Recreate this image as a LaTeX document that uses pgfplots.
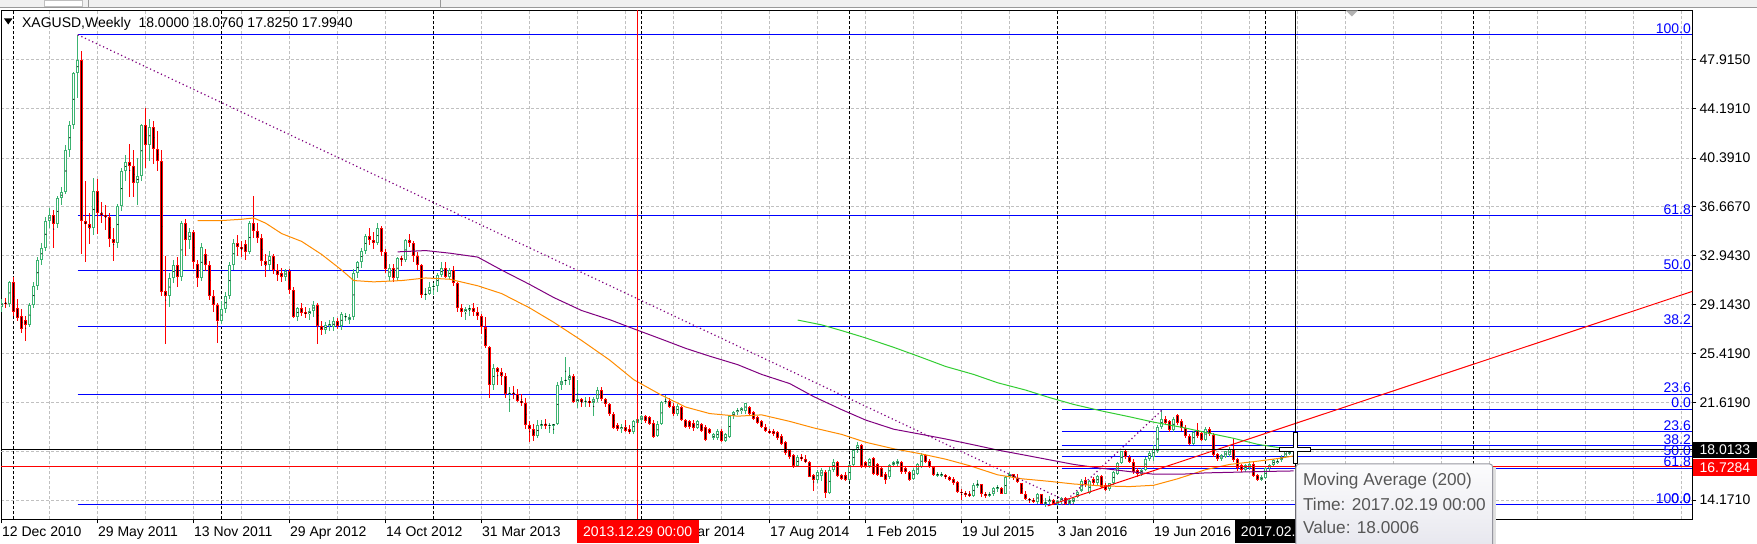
\documentclass[border=0pt]{standalone}
\usepackage{pgfplots}
\usepackage{pgfplotstable}
\pgfplotsset{compat=1.18}
\usepackage{fontspec}
\setmainfont{Liberation Sans}
\definecolor{bullc}{RGB}{60,179,113}
\definecolor{bearc}{RGB}{255,0,0}
\definecolor{fibc}{RGB}{0,0,255}
\definecolor{maA}{RGB}{255,140,0}
\definecolor{maB}{RGB}{128,0,128}
\definecolor{maC}{RGB}{50,205,50}
\definecolor{gridc}{RGB}{192,192,192}
\definecolor{tipt}{RGB}{87,87,87}
\newcommand{\f}{\fontsize{7bp}{8bp}\selectfont}
\newcommand{\ft}{\fontsize{8.6bp}{10bp}\selectfont}

\pgfplotstableread{
w o h l c
0 29.0 29.6 28.6 29.3
1 29.3 29.7 28.9 29.2
2 29.2 31.0 29.0 30.9
3 30.9 31.3 28.3 28.6
4 28.9 29.6 27.9 28.1
5 28.3 28.8 27.0 27.3
6 28.0 28.3 26.4 27.6
7 27.6 29.3 27.4 29.1
8 29.1 30.9 28.9 30.6
9 30.6 32.8 30.3 32.6
10 32.6 33.9 32.2 33.5
11 33.5 35.9 33.3 35.6
12 35.6 36.6 35.0 36.0
13 36.0 36.4 33.5 35.3
14 35.3 37.5 35.0 37.3
15 37.3 38.2 36.8 37.8
16 37.8 41.4 37.6 41.0
17 41.0 43.2 40.5 42.9
18 42.9 47.0 42.6 46.9
19 46.9 49.8 45.0 47.9
20 47.9 48.6 33.0 35.6
21 35.6 38.6 32.4 35.3
22 35.3 36.2 33.8 35.0
23 35.0 38.9 34.5 37.9
24 37.9 38.8 34.6 36.2
25 36.2 37.0 35.4 36.0
26 36.0 36.8 34.9 35.9
27 35.9 36.2 33.6 34.2
28 34.2 35.0 32.5 33.9
29 33.9 36.9 33.5 36.7
30 36.7 39.6 36.3 39.4
31 39.4 40.6 38.6 40.1
32 40.1 41.5 37.4 39.8
33 39.8 41.0 37.4 38.5
34 38.5 40.4 36.8 39.0
35 39.0 43.0 38.6 42.9
36 42.9 44.2 39.6 41.4
37 41.4 43.4 40.2 42.8
38 42.8 43.2 39.9 41.1
39 41.1 42.5 39.4 40.2
40 40.2 41.0 29.8 30.1
41 30.2 32.9 26.1 29.8
42 29.8 31.6 29.0 31.2
43 31.2 32.6 30.8 32.2
44 32.2 32.8 30.5 31.3
45 31.3 35.6 31.0 35.4
46 35.4 35.7 32.9 34.1
47 34.1 35.0 33.4 34.7
48 34.7 34.9 31.9 32.4
49 32.3 32.6 30.5 31.2
50 31.2 33.9 31.0 33.6
51 33.0 33.4 31.7 32.2
52 32.2 32.5 29.5 29.8
53 29.8 30.3 28.6 29.1
54 29.1 29.3 26.2 27.9
55 27.9 29.4 27.7 28.8
56 28.8 30.1 28.5 29.8
57 29.8 32.4 29.6 32.2
58 32.2 34.2 31.8 33.9
59 33.9 34.5 32.9 33.6
60 33.6 34.0 32.8 33.4
61 33.8 34.1 32.6 33.2
62 33.2 35.6 33.0 35.4
63 35.4 37.5 34.3 34.8
64 34.8 35.4 33.9 34.3
65 34.3 34.6 32.1 32.5
66 32.5 33.0 31.3 32.2
67 32.2 33.3 31.8 32.9
68 32.9 33.0 31.5 31.8
69 31.8 32.3 31.0 31.4
70 31.6 32.0 30.9 31.3
71 31.3 31.9 31.0 31.7
72 31.7 31.9 30.0 30.3
73 30.3 30.5 28.1 28.2
74 28.2 29.0 27.9 28.9
75 28.9 29.3 28.3 28.5
76 28.6 29.0 28.1 28.4
77 28.4 28.9 28.0 28.7
78 28.7 29.4 28.2 29.1
79 29.1 29.3 26.1 27.5
80 27.5 27.9 26.8 27.2
81 27.2 27.8 26.9 27.6
82 27.5 28.0 27.1 27.7
83 27.4 28.2 27.1 27.9
84 27.9 28.1 27.3 27.5
85 27.5 28.6 27.2 28.4
86 28.2 28.5 27.9 28.3
87 28.0 28.4 27.7 28.2
88 28.2 31.9 28.0 31.6
89 31.6 32.5 31.2 32.4
90 32.4 33.5 32.0 33.3
91 33.3 34.6 33.0 34.4
92 34.4 35.0 33.7 34.1
93 34.1 34.7 33.4 33.9
94 33.9 35.4 33.7 35.0
95 35.0 35.2 32.9 33.2
96 33.2 33.4 31.6 31.9
97 31.3 32.3 31.0 32.0
98 32.0 32.3 30.9 31.2
99 31.2 32.8 31.0 32.7
100 32.7 32.9 32.1 32.6
101 32.6 34.2 32.4 34.1
102 34.1 34.6 33.6 33.9
103 33.9 34.0 32.4 32.9
104 32.9 33.2 31.8 32.2
105 32.2 32.3 29.7 29.9
106 29.9 30.4 29.5 30.0
107 30.0 30.9 29.9 30.5
108 30.5 30.8 29.9 30.6
109 30.6 31.6 30.1 31.4
110 31.4 32.4 31.3 32.0
111 32.0 32.4 31.2 31.3
112 31.3 32.0 31.1 31.8
113 31.8 32.1 30.6 30.8
114 30.8 30.9 28.6 28.9
115 28.9 29.2 28.2 28.6
116 28.6 29.0 28.0 28.8
117 28.8 29.1 28.3 28.9
118 28.9 29.3 28.3 28.6
119 28.6 29.0 28.0 28.3
120 28.3 28.4 26.9 27.4
121 27.4 28.2 25.8 26.0
122 25.9 26.0 22.0 23.0
123 23.0 24.6 22.6 24.3
124 24.3 24.4 23.0 24.0
125 24.0 24.3 23.0 23.7
126 23.7 23.9 22.0 22.3
127 22.3 22.8 20.9 22.4
128 22.4 22.9 21.9 22.3
129 22.3 22.7 21.7 21.8
130 21.8 22.3 21.4 21.6
131 21.6 22.0 19.6 19.9
132 19.9 20.2 18.6 19.6
133 19.6 20.0 18.7 19.1
134 19.1 20.3 18.9 19.9
135 19.9 20.3 19.6 20.0
136 20.0 20.4 19.6 19.9
137 19.9 20.1 19.3 19.9
138 19.9 20.0 19.2 20.0
139 20.0 23.2 19.9 23.0
140 23.0 23.6 22.6 23.3
141 23.3 25.1 23.0 23.4
142 23.4 24.4 23.0 23.7
143 23.7 23.8 21.6 21.7
144 21.7 23.4 21.2 21.9
145 21.9 22.0 21.3 21.7
146 21.7 22.1 21.3 21.8
147 21.8 22.1 21.3 21.6
148 21.6 22.1 20.6 21.9
149 21.9 22.8 21.7 22.6
150 22.6 22.8 21.8 21.9
151 21.9 22.0 21.3 21.5
152 21.5 21.6 20.6 20.8
153 20.8 20.9 19.6 19.7
154 19.9 20.1 19.5 19.6
155 19.6 20.0 19.3 19.8
156 19.8 20.3 19.4 19.5
157 19.6 19.9 19.2 19.4
158 19.4 20.3 19.2 20.2
159 20.1 20.5 19.9 20.4
160 20.3 20.7 20.1 20.6
161 20.6 20.7 20.1 20.2
162 20.5 20.6 19.9 20.0
163 20.1 20.3 18.9 19.0
164 19.1 20.2 19.0 20.0
165 20.0 21.8 19.9 21.7
166 21.7 22.2 21.5 21.8
167 21.8 22.0 21.2 21.3
168 21.4 21.6 20.6 20.8
169 20.8 21.5 20.6 21.4
170 21.3 21.4 20.2 20.3
171 20.3 20.4 19.7 19.8
172 20.2 20.3 19.6 19.8
173 20.1 20.3 19.5 19.7
174 19.7 20.3 19.6 20.2
175 20.0 20.1 19.4 19.5
176 19.8 19.9 18.7 18.8
177 19.6 19.7 19.2 19.3
178 18.9 19.3 18.8 19.2
179 18.9 19.6 18.8 19.5
180 19.5 19.6 18.6 18.7
181 18.7 19.3 18.6 19.2
182 19.0 20.7 18.9 20.6
183 20.6 21.0 20.4 20.9
184 20.9 21.2 20.7 21.1
185 21.0 21.3 20.8 21.2
186 21.0 21.6 20.8 21.6
187 21.3 21.4 20.7 20.8
188 20.9 21.0 20.3 20.4
189 20.5 20.6 20.0 20.1
190 20.2 20.3 19.7 19.8
191 19.8 20.0 19.4 19.5
192 19.5 19.6 19.2 19.3
193 19.5 19.6 19.1 19.2
194 19.4 19.5 18.8 18.9
195 19.1 19.2 18.4 18.5
196 18.6 18.7 17.6 17.75
197 18.0 18.1 17.3 17.5
198 17.6 17.7 16.6 16.75
199 16.75 17.6 16.7 17.5
200 17.5 17.7 17.2 17.3
201 17.3 17.6 17.0 17.1
202 17.1 17.2 15.9 15.96
203 16.1 16.2 14.9 15.7
204 15.7 16.5 15.5 16.35
205 16.0 16.6 15.6 16.5
206 16.35 16.5 14.3 14.7
207 14.7 16.7 14.6 16.5
208 16.5 17.3 16.3 17.1
209 17.1 17.2 15.9 16.0
210 16.1 16.2 15.7 15.8
211 16.1 16.3 15.6 15.7
212 15.7 16.9 15.6 16.85
213 16.85 18.1 16.7 18.0
214 18.0 18.6 17.8 18.4
215 18.4 18.5 16.6 16.75
216 17.1 17.2 16.6 16.75
217 16.75 17.4 16.6 17.3
218 17.4 17.5 16.1 16.2
219 16.9 17.0 16.0 16.1
220 16.6 16.7 15.9 15.96
221 16.2 16.3 15.4 15.7
222 15.96 16.9 15.8 16.85
223 16.85 17.2 16.7 17.1
224 16.9 17.3 16.8 17.2
225 17.1 17.2 16.2 16.35
226 16.6 16.7 16.2 16.3
227 16.35 16.4 15.6 15.7
228 15.8 16.6 15.7 16.5
229 16.2 17.0 16.1 16.9
230 16.7 17.8 16.6 17.6
231 17.6 17.7 17.0 17.1
232 17.2 17.3 16.6 16.7
233 16.7 16.8 16.0 16.1
234 16.1 16.3 15.9 16.15
235 16.1 16.3 15.9 16.15
236 16.1 16.2 15.8 15.9
237 15.96 16.0 15.6 15.7
238 15.8 15.9 15.3 15.45
239 15.58 15.6 14.7 14.81
240 14.8 15.0 14.2 14.7
241 14.7 14.9 14.4 14.6
242 14.6 14.9 14.4 14.5
243 14.5 15.5 14.4 15.3
244 15.3 15.7 15.1 15.4
245 15.4 15.4 14.4 14.6
246 14.6 14.8 14.3 14.55
247 14.55 14.8 14.4 14.6
248 14.6 15.2 14.5 15.1
249 15.1 15.3 14.8 15.15
250 15.1 15.2 14.6 14.65
251 14.65 16.0 14.6 15.9
252 15.9 16.3 15.8 16.2
253 16.2 16.2 15.7 15.85
254 15.85 16.2 15.5 15.55
255 15.5 15.5 14.6 14.65
256 14.65 14.9 14.2 14.25
257 14.25 14.35 13.95 14.2
258 14.2 14.3 13.95 14.05
259 14.05 14.7 13.9 14.6
260 14.6 14.6 13.85 13.9
261 13.9 14.3 13.6 14.0
262 14.0 14.5 13.9 14.2
263 14.2 14.25 13.8 13.9
264 13.9 14.2 13.7 14.1
265 14.1 14.4 13.8 14.3
266 14.3 14.4 13.8 13.9
267 13.9 14.3 13.8 14.2
268 14.0 14.4 13.9 14.3
269 14.4 14.9 14.3 14.8
270 14.9 15.8 14.8 15.6
271 15.7 15.9 15.2 15.3
272 14.7 15.7 14.6 15.6
273 15.8 15.9 15.3 15.45
274 15.45 16.1 15.3 16.0
275 16.0 16.1 15.1 15.2
276 15.3 15.5 14.9 14.95
277 15.05 15.5 14.9 15.45
278 15.45 16.4 15.3 16.35
279 16.2 17.1 16.1 17.0
280 17.0 17.9 16.9 17.9
281 17.9 18.0 17.3 17.5
282 17.5 17.6 17.0 17.1
283 17.1 17.3 16.2 16.35
284 16.45 16.6 15.9 16.15
285 16.2 16.6 16.0 16.5
286 16.5 17.5 16.4 17.35
287 17.35 17.9 17.2 17.8
288 17.5 18.4 17.2 18.1
289 17.9 19.9 17.8 19.8
290 19.8 21.1 19.6 20.4
291 20.4 20.6 19.9 20.05
292 20.2 20.3 19.4 19.55
293 19.55 20.5 19.4 20.4
294 20.7 20.8 19.9 20.05
295 20.2 20.4 19.5 19.7
296 19.7 19.9 18.9 19.05
297 19.05 19.2 18.4 18.5
298 18.5 19.5 18.4 19.4
299 19.55 20.1 18.9 19.05
300 19.3 19.4 18.7 18.8
301 18.8 19.8 18.7 19.65
302 19.6 19.8 19.1 19.2
303 19.15 19.3 17.5 17.6
304 17.7 17.8 17.2 17.35
305 17.35 17.7 17.2 17.6
306 17.5 17.95 17.4 17.9
307 17.6 18.2 17.5 18.1
308 18.1 18.9 17.1 17.25
309 17.35 17.4 16.4 16.6
310 16.85 16.95 16.3 16.45
311 16.45 16.9 16.3 16.85
312 16.6 17.2 16.5 16.95
313 16.95 17.1 15.9 16.0
314 16.1 16.2 15.6 15.7
315 15.7 16.1 15.6 15.95
316 15.85 16.7 15.8 16.6
317 16.6 16.95 16.4 16.85
318 16.85 17.3 16.7 17.25
319 17.0 17.4 16.9 17.2
320 17.25 17.6 17.1 17.5
321 17.5 17.95 17.4 17.9
322 17.7 18.1 17.6 17.95
323 18.0 18.076 17.825 17.994
}\candles

\pgfplotsset{
  eb/.style={only marks, mark=*, mark size=0.01pt, mark options={draw=none, fill=none},
    forget plot, unbounded coords=discard,
    restrict y to domain=5:60,
    error bars/.cd, y dir=both, y explicit, error mark=none, error bar style={#1}},
}
\def\fiblab#1/#2\relax{\node[anchor=south east, inner sep=0pt, text=fibc, font=\f] at (axis cs:422.4,#1) [yshift=0.4bp] {#2};}
\def\ylab#1/#2\relax{\node[anchor=west, inner sep=0pt, font=\f] at (axis cs:422.65,#1) [xshift=3.5bp] {#2};}
\def\xlab#1/#2\relax{\node[anchor=base west, inner sep=0pt, font=\f] at (axis cs:#1,12.691) [yshift=-8.7bp] {#2};}

\begin{document}
\begin{tikzpicture}
\useasboundingbox (0,0) rectangle (878.5bp,-272bp);
\fill[white] (0,0) rectangle (878.5bp,-272bp);
\begin{scope}[x=0.5bp,y=-0.5bp]
\fill[black!6] (0,0) rectangle (1757,7.5);
\draw[black!40, line width=0.5bp] (0,7.5) -- (1757,7.5);
\fill[white] (45,0) rectangle (83,6.5);
\draw[black!25, line width=0.5bp] (45,0) rectangle (83,6.5);
\draw[black!40, line width=0.5bp] (89,0) -- (89,7.5) (441,0) -- (441,7.5);
\end{scope}

\begin{axis}[
  at={(0.5bp,-259.65bp)}, anchor=south west,
  x=2bp, y=6.52bp,
  xmin=-0.175, xmax=422.65, ymin=12.691, ymax=51.747,
  clip mode=individual,
  axis line style={black, line width=0.5bp},
  ytick={14.171,21.619,25.419,29.143,32.943,36.667,40.391,44.191,47.915},
  yticklabels={},
  extra y ticks={17.895}, extra y tick labels={},
  extra y tick style={grid=major},
  ytick pos=right,
  xtick={0,24,...,312}, xticklabels={},
  minor xtick={12,36,60,84,108,132,156,180,204,228,252,276,300,324,336,348,360,372,384,396,408,420},
  xtick pos=left,
  tick align=outside,
  major tick length=2bp, minor tick length=0pt,
  tick style={black, line width=0.5bp},
  xmajorgrids, xminorgrids, ymajorgrids,
  major grid style={gridc, dash pattern=on 1.5bp off 1bp, line width=0.5bp},
  minor grid style={gridc, dash pattern=on 1.5bp off 1bp, line width=0.5bp},
]
% year separators
\pgfplotsinvokeforeach{3,55,108,160,212,264,316,368}{
  \addplot[black, line width=0.5bp, dash pattern=on 1.5bp off 1bp, forget plot] coordinates {(#1,12.691) (#1,51.747)};
}
% fibonacci 1 levels
\pgfplotsinvokeforeach{49.85,35.97,31.78,27.51,22.30,13.83}{
  \addplot[fibc, line width=0.5bp, forget plot] coordinates {(19,#1) (422.65,#1)};
}
% fibonacci 2 levels
\pgfplotsinvokeforeach{21.13,19.40,18.33,17.47,16.60,13.80}{
  \addplot[fibc, line width=0.5bp, forget plot] coordinates {(265,#1) (422.65,#1)};
}
% candles: bull
\addplot[eb={bullc, line width=0.5bp}] table[x=w, y expr={\thisrow{c}>=\thisrow{o} ? 0.5*(\thisrow{h}+\thisrow{l}) : -100}, y error expr={0.5*(\thisrow{h}-\thisrow{l})}]{\candles};
\addplot[eb={bullc, line width=1.5bp}] table[x=w, y expr={\thisrow{c}>=\thisrow{o} ? 0.5*(\thisrow{o}+\thisrow{c}) : -100}, y error expr={max(0.5*abs(\thisrow{c}-\thisrow{o}),0.04)}]{\candles};
\addplot[eb={white, line width=0.5bp}] table[x=w, y expr={\thisrow{c}>=\thisrow{o} ? 0.5*(\thisrow{o}+\thisrow{c}) : -100}, y error expr={max(0.5*abs(\thisrow{c}-\thisrow{o})-0.077,0)}]{\candles};
% candles: bear
\addplot[eb={bearc, line width=0.5bp}] table[x=w, y expr={\thisrow{c}<\thisrow{o} ? 0.5*(\thisrow{h}+\thisrow{l}) : -100}, y error expr={0.5*(\thisrow{h}-\thisrow{l})}]{\candles};
\addplot[eb={bearc, line width=1.5bp}] table[x=w, y expr={\thisrow{c}<\thisrow{o} ? 0.5*(\thisrow{o}+\thisrow{c}) : -100}, y error expr={max(0.5*abs(\thisrow{c}-\thisrow{o}),0.04)}]{\candles};
\addplot[eb={black, line width=0.5bp}] table[x=w, y expr={\thisrow{c}<\thisrow{o} ? 0.5*(\thisrow{o}+\thisrow{c}) : -100}, y error expr={max(0.5*abs(\thisrow{c}-\thisrow{o})-0.077,0)}]{\candles};
% moving averages
\addplot[maA, line width=0.5bp] coordinates {(49,35.6) (55,35.6) (60,35.7) (63,35.8) (66,35.4) (70,34.6) (75,34.0) (80,33.0) (85,31.8) (88,31.0) (93,30.9) (100,31.0) (106,31.2) (112,31.1) (119,30.6) (125,30.0) (132,28.9) (138,27.8) (145,26.4) (152,24.9) (158,23.4) (165,22.2) (171,21.3) (177,20.8) (184,20.6) (190,20.7) (197,20.2) (203,19.7) (210,19.2) (216,18.6) (223,18.1) (230,17.7) (236,17.3) (242,16.8) (249,16.1) (255,15.8) (262,15.6) (268,15.4) (275,15.25) (282,15.2) (288,15.3) (294,15.8) (301,16.5) (307,16.9) (314,17.15) (319,17.35) (323,17.55)};
\addplot[maB, line width=0.5bp] coordinates {(99,33.2) (106,33.3) (112,33.1) (119,32.8) (125,31.8) (132,30.7) (138,29.7) (145,28.7) (152,28.0) (158,27.3) (165,26.5) (171,25.8) (177,25.2) (184,24.55) (190,23.8) (197,23.1) (203,22.1) (210,21.1) (216,20.3) (223,19.6) (230,19.2) (236,18.85) (243,18.4) (249,18.0) (256,17.6) (262,17.25) (268,16.9) (275,16.6) (282,16.35) (288,16.15) (295,16.15) (301,16.25) (308,16.3) (314,16.35) (323,16.4)};
\addplot[maC, line width=0.5bp] coordinates {(199,27.97) (205,27.6) (210,27.16) (216,26.6) (223,25.88) (230,25.1) (236,24.41) (243,23.8) (249,23.16) (256,22.6) (262,22.02) (268,21.5) (275,21.0) (282,20.55) (288,20.14) (295,19.75) (301,19.35) (308,18.9) (314,18.44) (319,18.2) (323,18.0)};
% fib anchor dotted lines
\addplot[maB, line width=0.6bp, dash pattern=on 0.6bp off 1.4bp] coordinates {(19,49.85) (268,13.83)};
\addplot[maB, line width=0.6bp, dash pattern=on 0.6bp off 1.4bp] coordinates {(265,13.80) (290.3,21.13)};
% red trend line
\addplot[bearc, line width=0.5bp] coordinates {(261.5,13.72) (422.65,30.17)};
% red horizontal and vertical lines
\addplot[bearc, line width=0.5bp] coordinates {(-0.175,16.7284) (422.65,16.7284)};
\addplot[bearc, line width=0.5bp] coordinates {(159,12.691) (159,51.747)};
% crosshair
\addplot[black, line width=0.5bp] coordinates {(-0.175,18.0133) (422.65,18.0133)};
\addplot[black, line width=0.5bp] coordinates {(323.45,12.691) (323.45,51.747)};

% fib labels
\pgfplotsinvokeforeach{49.85/100.0,35.97/61.8,31.78/50.0,27.51/38.2,22.30/23.6,13.83/0.0,21.13/0.0,19.40/23.6,18.33/38.2,17.47/50.0,16.60/61.8,13.80/100.0}{\fiblab#1\relax}
% right axis labels
\pgfplotsinvokeforeach{47.915/47.9150,44.191/44.1910,40.391/40.3910,36.667/36.6670,32.943/32.9430,29.143/29.1430,25.419/25.4190,21.619/21.6190,14.171/14.1710}{\ylab#1\relax}
% date labels
\pgfplotsinvokeforeach{0/12 Dec 2010,24/29 May 2011,48/13 Nov 2011,72/29 Apr 2012,96/14 Oct 2012,120/31 Mar 2013,168/2 Mar 2014,192/17 Aug 2014,216/1 Feb 2015,240/19 Jul 2015,264/3 Jan 2016,288/19 Jun 2016}{\xlab#1\relax}
\end{axis}

\begin{scope}[x=0.5bp,y=-0.5bp]
% header
\fill[black] (4,18.5) -- (12.5,18.5) -- (8.25,24.5) -- cycle;
\node[anchor=base west, inner sep=0pt, font=\f] at (21.7,27.3) {XAGUSD,Weekly\ \ 18.0000 18.0760 17.8250 17.9940};
% chart shift marker
\fill[black!30] (1346,10.5) -- (1358,10.5) -- (1352,16.5) -- cycle;
% price boxes
\fill[black] (1692.8,441.7) rectangle (1757,457.7);
\node[anchor=west, inner sep=0pt, text=white, font=\f] at (1699.3,449.7) {18.0133};
\fill[red] (1692.8,459.3) rectangle (1757,476);
\node[anchor=west, inner sep=0pt, text=white, font=\f] at (1699.3,467.6) {16.7284};
% time boxes
\node[fill=red, text=white, font=\f, inner xsep=3.2bp, minimum height=9.5bp] at (637.7,531.7) {2013.12.29 00:00};
\node[fill=black, text=white, font=\f, inner xsep=3.2bp, minimum height=9.5bp] at (1295.5,531.7) {2017.02.19 00:00};
% cursor
\draw[black, fill=white, line width=0.5bp] (1293.5,433) -- (1297.5,433) -- (1297.5,447.5) -- (1311,447.5) -- (1311,451.5) -- (1297.5,451.5) -- (1297.5,464) -- (1293.5,464) -- (1293.5,451.5) -- (1280,451.5) -- (1280,447.5) -- (1293.5,447.5) -- cycle;
% tooltip
\fill[black!12] (1299,467) rectangle (1496,560);
\path[top color={rgb,255:red,252;green,252;blue,253}, bottom color={rgb,255:red,228;green,228;blue,236}, draw={rgb,255:red,150;green,150;blue,160}, line width=0.5bp, rounded corners=1.5bp] (1296,464) rectangle (1492.7,560);
\node[anchor=base west, inner sep=0pt, text=tipt, font=\ft] at (1302.7,486) {Moving Average (200)};
\node[anchor=base west, inner sep=0pt, text=tipt, font=\ft] at (1302.7,511) {Time: 2017.02.19 00:00};
\node[anchor=base west, inner sep=0pt, text=tipt, font=\ft] at (1302.7,534) {Value: 18.0006};
\end{scope}
\end{tikzpicture}
\end{document}
